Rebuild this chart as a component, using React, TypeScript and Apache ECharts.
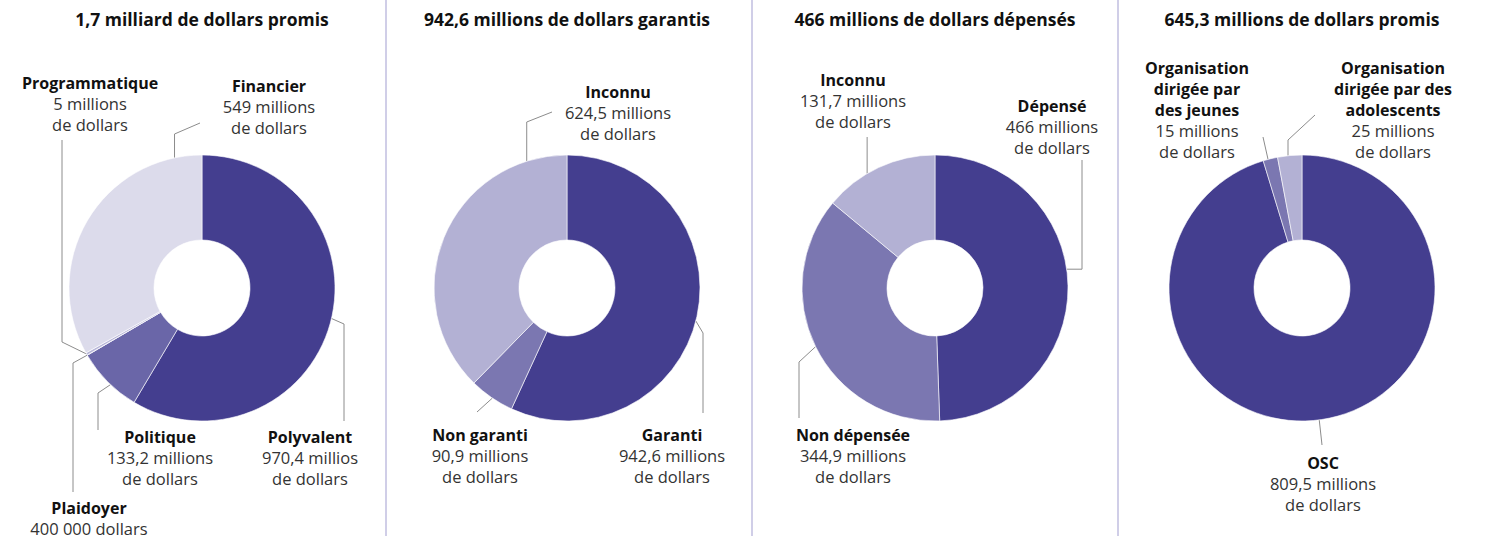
import React, { useEffect, useRef } from "react";
import * as echarts from "echarts";

// ---------- DATA ----------
const panelTitles = [
  "1,7 milliard de dollars promis",
  "942,6 millions de dollars garantis",
  "466 millions de dollars dépensés",
  "645,3 millions de dollars promis",
];

const p1Names = ["Polyvalent", "Politique", "Plaidoyer", "Programmatique", "Financier"];
const p1Values = [970.4, 133.2, 0.4, 5, 549];
const p1Texts = [
  "970,4 millios\nde dollars",
  "133,2 millions\nde dollars",
  "400 000 dollars",
  "5 millions\nde dollars",
  "549 millions\nde dollars",
];

const p2Names = ["Garanti", "Non garanti", "Inconnu"];
const p2Values = [942.6, 90.9, 624.5];
const p2Texts = ["942,6 millions\nde dollars", "90,9 millions\nde dollars", "624,5 millions\nde dollars"];

const p3Names = ["Dépensé", "Non dépensée", "Inconnu"];
const p3Values = [466, 344.9, 131.7];
const p3Texts = ["466 millions\nde dollars", "344,9 millions\nde dollars", "131,7 millions\nde dollars"];

const p4Names = ["OSC", "Organisation\ndirigée par\ndes jeunes", "Organisation\ndirigée par des\nadolescents"];
const p4Values = [809.5, 15, 25];
const p4Texts = ["809,5 millions\nde dollars", "15 millions\nde dollars", "25 millions\nde dollars"];

// ---------- STYLE / LAYOUT ----------
const DARK = "#443e8f";
const MED = "#7b77b1";
const LIGHT = "#b3b1d4";
const FONT = "'Open Sans', 'Noto Sans', sans-serif";
const LINE_H = 20.8;
const R_OUT = 133;
const R_IN = 48;

type Step = ["v", number] | ["h", number] | ["p", number, number];
interface LabelLayout { x: number; y: number; t: number; steps: Step[] }

const panels = [
  {
    names: p1Names, values: p1Values, texts: p1Texts,
    colors: [DARK, "#6a66a8", "#a9a6cf", "#b8b6d8", "#dcdbeb"],
    center: [202, 288],
    labels: [
      { x: 310, y: 437, t: 0.49, steps: [["p", 344, 324], ["v", 421]] },
      { x: 160, y: 437, t: 0.44, steps: [["p", 98, 393], ["v", 430]] },
      { x: 89, y: 508, t: 0.5, steps: [["p", 73, 363], ["v", 492]] },
      { x: 90, y: 83, t: 0.5, steps: [["p", 62, 342], ["v", 140]] },
      { x: 269, y: 86, t: 0.9, steps: [["v", 134], ["p", 200, 123]] },
    ] as LabelLayout[],
  },
  {
    names: p2Names, values: p2Values, texts: p2Texts,
    colors: [DARK, MED, LIGHT],
    center: [567, 288],
    labels: [
      { x: 672, y: 435, t: 0.51, steps: [["p", 703, 333], ["v", 413]] },
      { x: 480, y: 435, t: 0.48, steps: [["p", 477, 412]] },
      { x: 618, y: 92, t: 0.87, steps: [["v", 122], ["p", 552, 112]] },
    ] as LabelLayout[],
  },
  {
    names: p3Names, values: p3Values, texts: p3Texts,
    colors: [DARK, MED, LIGHT],
    center: [935, 288],
    labels: [
      { x: 1052, y: 106, t: 0.46, steps: [["h", 1082], ["v", 160]] },
      { x: 853, y: 435, t: 0.5, steps: [["p", 799, 362], ["v", 418]] },
      { x: 853, y: 80, t: 0.39, steps: [["v", 137]] },
    ] as LabelLayout[],
  },
  {
    names: p4Names, values: p4Values, texts: p4Texts,
    colors: [DARK, MED, LIGHT],
    center: [1302, 288],
    labels: [
      { x: 1323, y: 463, t: 0.503, steps: [["p", 1322, 445]] },
      { x: 1197, y: 68, t: 0.34, steps: [["p", 1263, 137]] },
      { x: 1393, y: 68, t: 0.43, steps: [["v", 140], ["p", 1315, 115]] },
    ] as LabelLayout[],
  },
];

const separatorsX = [386, 752, 1118];

function leaderPoints(center: number[], values: number[], idx: number, L: LabelLayout) {
  const total = values.reduce((a, b) => a + b, 0);
  let cum = 0;
  for (let j = 0; j < idx; j++) cum += values[j];
  const ang = ((cum + L.t * values[idx]) / total) * Math.PI * 2;
  let x = center[0] + R_OUT * Math.sin(ang);
  let y = center[1] - R_OUT * Math.cos(ang);
  const pts: number[][] = [[x, y]];
  for (const s of L.steps) {
    if (s[0] === "v") y = s[1];
    else if (s[0] === "h") x = s[1];
    else { x = s[1]; y = (s as any)[2]; }
    pts.push([x, y]);
  }
  return pts;
}

function richLabel(name: string, text: string) {
  const b = name.split("\n").map((l) => `{b|${l}}`);
  const v = text.split("\n").map((l) => `{v|${l}}`);
  return [...b, ...v].join("\n");
}

export default function App() {
  const ref = useRef<HTMLDivElement>(null);
  useEffect(() => {
    if (!ref.current) return;
    const chart = echarts.init(ref.current, null, { renderer: "svg" });

    const series = panels.map((p) => ({
      type: "pie",
      center: p.center,
      radius: [R_IN, R_OUT],
      startAngle: 90,
      clockwise: true,
      avoidLabelOverlap: false,
      silent: true,
      itemStyle: { borderColor: "#ffffff", borderWidth: 0.6 },
      emphasis: { disabled: true },
      data: p.names.map((n, i) => ({ name: n, value: p.values[i], itemStyle: { color: p.colors[i] } })),
      label: {
        show: true,
        position: "outside",
        formatter: (params: any) => richLabel(p.names[params.dataIndex], p.texts[params.dataIndex]),
        rich: {
          b: { fontFamily: FONT, fontWeight: "bold", fontSize: 16, lineHeight: LINE_H, color: "#111111", align: "center" },
          v: { fontFamily: FONT, fontSize: 16.5, lineHeight: LINE_H, color: "#333333", align: "center" },
        },
      },
      labelLine: {
        show: true,
        length: 10,
        length2: 10,
        smooth: false,
        lineStyle: { color: "#8c8c8c", width: 1 },
      },
      labelLayout: (params: any) => {
        const L = p.labels[params.dataIndex];
        return {
          x: L.x,
          y: L.y - LINE_H / 2,
          align: "center",
          verticalAlign: "top",
          labelLinePoints: leaderPoints(p.center, p.values, params.dataIndex, L),
        };
      },
    }));

    const graphics: any[] = [];
    panelTitles.forEach((t, i) => {
      graphics.push({
        type: "text",
        x: panels[i].center[0],
        y: 19,
        silent: true,
        style: {
          text: t,
          font: `bold 17.5px ${FONT}`,
          fill: "#111111",
          align: "center",
          verticalAlign: "middle",
          textAlign: "center",
          textVerticalAlign: "middle",
        },
      });
    });
    separatorsX.forEach((x) => {
      graphics.push({
        type: "line",
        silent: true,
        shape: { x1: x, y1: 0, x2: x, y2: 536 },
        style: { stroke: "#a19dd0", lineWidth: 1 },
      });
    });

    chart.setOption({
      animation: false,
      backgroundColor: "#ffffff",
      series,
      graphic: graphics,
    });
    return () => chart.dispose();
  }, []);

  return (
    <div
      ref={ref}
      style={{ position: "absolute", left: 0, top: 0, width: 1490, height: 540 }}
    />
  );
}
